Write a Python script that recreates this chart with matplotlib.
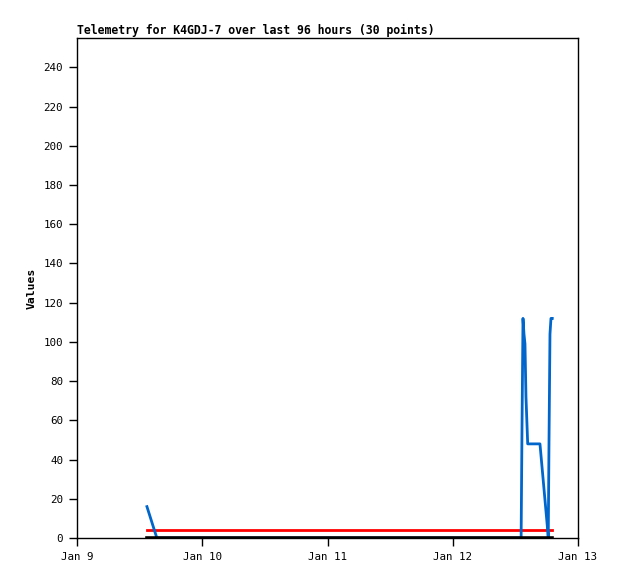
import datetime as dt
import matplotlib
matplotlib.use("Agg")
import matplotlib.pyplot as plt

# hours after Jan 9 00:00
hours = [13.4, 15.3, 50.0, 85.1, 85.27, 85.46, 85.65, 85.84, 86.03, 86.36,
         88.71, 90.19, 90.3, 90.44, 90.63, 90.82, 91.07]
blue_vals = [16, 0, 0, 0, 56, 112, 104, 99, 72, 48,
             48, 4, 0, 48, 104, 112, 112]
red_vals = [4] * len(hours)
black_vals = [0] * len(hours)

days = ["Jan 9", "Jan 10", "Jan 11", "Jan 12", "Jan 13"]
yticks = list(range(0, 241, 20))

base = dt.datetime(2024, 1, 9)
times = [base + dt.timedelta(hours=h) for h in hours]
day_pos = [base + dt.timedelta(days=i) for i in range(len(days))]

fig = plt.figure(figsize=(6.18, 5.79), dpi=100)
ax = fig.add_axes([77 / 618, 1 - 538 / 579, 501 / 618, 500 / 579])

ax.plot(times, red_vals, color="#ff0000", lw=2, zorder=2)
ax.plot(times, blue_vals, color="#0066cc", lw=2, zorder=3)
ax.plot(times, black_vals, color="black", lw=2.6, zorder=4)

ax.set_xlim(day_pos[0], day_pos[-1])
ax.set_ylim(0, 255)
ax.set_xticks(day_pos)
ax.set_xticklabels(days)
ax.set_yticks(yticks)

mono = "DejaVu Sans Mono"
for lab in ax.get_xticklabels() + ax.get_yticklabels():
    lab.set_fontfamily(mono)
    lab.set_fontsize(7.8)
ax.tick_params(direction="out", length=6, width=1, color="black", pad=4)
for s in ax.spines.values():
    s.set_linewidth(1)
    s.set_color("black")
    s.set_zorder(5)

ax.set_ylabel("Values", family=mono, fontsize=8.2, fontweight="bold", labelpad=5)
ax.set_title("Telemetry for K4GDJ-7 over last 96 hours (30 points)",
             family=mono, fontsize=8.3, fontweight="bold", loc="left", pad=3)

fig.savefig("out.png", dpi=100)
